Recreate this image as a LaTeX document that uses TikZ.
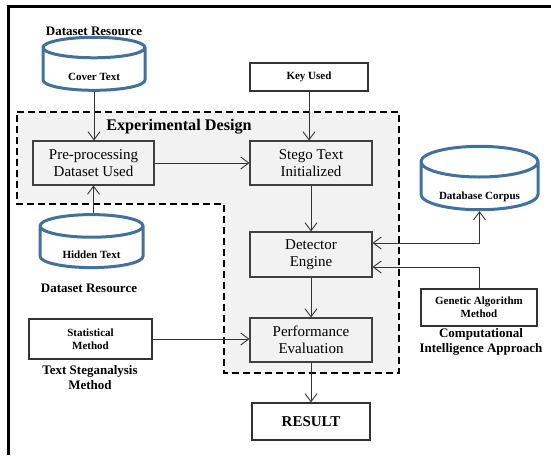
\documentclass[tikz,border=0pt]{standalone}
\usepackage{fontspec}
\setmainfont{Liberation Serif}
\usetikzlibrary{arrows.meta,shapes.geometric}
\definecolor{cylblue}{HTML}{41719C}
\definecolor{areagray}{HTML}{F2F2F2}
\begin{document}
\begin{tikzpicture}[x=1pt,y=-1pt]
	\tikzstyle{arr}=[-{Straight Barb[length=8pt,width=12pt]},draw=black!80,line width=0.9pt]
	\tikzstyle{dbase}=[cylinder,shape border rotate=90,aspect=0.35,draw=cylblue,line width=3pt,fill=white,inner ysep=0pt,text height=18pt,text depth=0pt,font=\bfseries\fontsize{11}{12}\selectfont]
	\tikzstyle{inbox}=[rectangle,draw=black!75,line width=1.1pt,fill=areagray,align=center,font=\fontsize{15}{16.5}\selectfont]
	\tikzstyle{outbox}=[rectangle,draw=black!80,line width=1.3pt,fill=white,align=center,font=\bfseries\fontsize{11}{13}\selectfont]
	\tikzstyle{caption}=[align=center,font=\bfseries\fontsize{13}{15}\selectfont]
	\useasboundingbox (0,0) rectangle (551,455);
	% frame
	\draw[line width=3pt] (8,455) -- (8,6.5) -- (551,6.5);
	% experimental design area
	\draw[dashed,dash pattern=on 7pt off 4pt,line width=2.4pt,fill=areagray]
		(17,112) -- (399,112) -- (399,373) -- (224,373) -- (224,204) -- (17,204) -- cycle;
	\node[font=\bfseries\fontsize{16.2}{18}\selectfont] (expd) at (179,127) {Experimental Design};
	% data sources
	\node[caption] (dsa) at (94,31) {Dataset Resource};
	\node[dbase,minimum width=102pt,minimum height=53pt] (cover) at (94,71.5) {Cover Text};
	\node[dbase,minimum width=103pt,minimum height=53pt] (hidden) at (91.5,249.5) {Hidden Text};
	\node[caption] (dsb) at (89,288) {Dataset Resource};
	\node[dbase,minimum width=117pt,minimum height=62pt,text height=21pt] (db) at (479.5,189) {Database Corpus};
	% process
	\node[inbox,minimum width=121pt,minimum height=44pt] (prep) at (93.5,163) {Pre-processing\\Dataset Used};
	\node[inbox,minimum width=122pt,minimum height=44pt] (stego) at (311,163) {Stego Text\\Initialized};
	\node[inbox,minimum width=122pt,minimum height=45pt] (det) at (311,254.5) {Detector\\Engine};
	\node[inbox,minimum width=122pt,minimum height=44pt] (perf) at (311,340) {Performance\\Evaluation};
	% outside boxes
	\node[outbox,minimum width=118pt,minimum height=28pt] (key) at (309,77) {Key Used};
	\node[outbox,minimum width=118pt,minimum height=37pt,font=\bfseries\fontsize{15}{17}\selectfont] (result) at (311,421.5) {RESULT};
	\node[outbox,minimum width=123pt,minimum height=40pt] (stat) at (90.5,339) {Statistical\\Method};
	\node[caption] (tsm) at (90,378) {Text Steganalysis\\Method};
	\node[outbox,minimum width=116pt,minimum height=37pt] (ga) at (479,307.5) {Genetic Algorithm\\Method};
	\node[caption] (cia) at (481,342) {Computational\\Intelligence Approach};
	% connectors
	\draw[arr] (cover.south) -- (cover.south |- prep.north);
	\draw[arr] (hidden.north -| prep.south) -- (prep.south);
	\draw[arr] (key.south) -- (key.south |- stego.north);
	\draw[arr] (prep) -- (stego);
	\draw[arr] (stego) -- (det);
	\draw[arr] (det) -- (perf);
	\draw[arr] (perf) -- (result);
	\draw[arr,{Straight Barb[length=8pt,width=12pt]}-{Straight Barb[length=8pt,width=12pt]}] ([yshift=11.5pt]det.east) -| (db.south);
	\draw[arr] (ga.north) |- ([yshift=-12.5pt]det.east);
	\draw[arr] (stat.east) -- (stat.east -| perf.west);
\end{tikzpicture}
\end{document}
